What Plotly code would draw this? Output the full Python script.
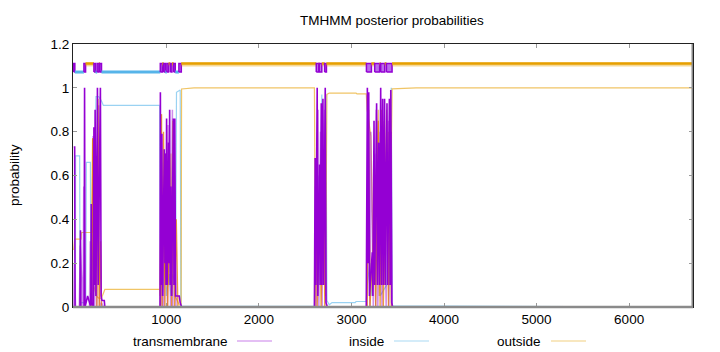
import plotly.graph_objects as go

# ---------------- data ----------------
SEQ_LEN = 6690

# topology strip: (start, end, kind)
topology = [
    (0, 12, "TM"), (12, 110, "in"), (110, 128, "TM"), (128, 218, "out"),
    (218, 236, "TM"), (236, 253, "in"), (253, 272, "TM"), (272, 280, "out"),
    (280, 300, "TM"), (300, 935, "in"),
    (935, 957, "TM"), (957, 971, "out"), (971, 989, "TM"), (989, 1006, "in"),
    (1006, 1025, "TM"), (1025, 1043, "out"), (1043, 1061, "TM"), (1061, 1079, "out"),
    (1079, 1097, "TM"), (1097, 1136, "in"), (1136, 1162, "TM"), (1162, 2620, "out"),
    (2620, 2648, "TM"), (2648, 2652, "out"), (2652, 2680, "TM"), (2680, 2710, "out"),
    (2710, 2730, "TM"), (2730, 3162, "out"),
    (3162, 3216, "TM"), (3216, 3251, "out"), (3251, 3305, "TM"), (3305, 3316, "out"),
    (3316, 3360, "TM"), (3360, 3378, "out"), (3378, 3439, "TM"), (3439, SEQ_LEN, "out"),
]

tm_x = [0, 10, 14, 68, 73, 78, 112, 117, 122, 150, 184, 189, 194, 212, 218, 224, 231, 240,
        256, 264, 288, 296, 305, 330, 336, 928,
        932, 936, 942, 952, 960, 978, 985, 990, 997, 1003, 1010, 1024, 1030, 1036, 1042,
        1050, 1058, 1076, 1083, 1092, 1100, 1140, 1150, 1165,
        2600, 2608, 2615, 2630, 2637, 2655, 2662, 2674, 2680, 2692, 2700, 2717, 2725, 2740,
        3160, 3172, 3180, 3187, 3195, 3225, 3232, 3244, 3252, 3272, 3280, 3294, 3302, 3316,
        3324, 3337, 3345, 3358, 3366, 3384, 3392, 3410, 3418, 3425, 3435, 3445, SEQ_LEN]
tm_y = [0.73, 0.73, 0, 0, 0.35, 0, 0, 1.0, 0, 0.05, 0, 0.47, 0.02, 0, 0.82, 0.1, 0.9, 0.05,
        1.0, 0.1, 1.0, 0.05, 0.03, 0.03, 0, 0,
        0, 0.98, 0.1, 0.79, 0.05, 0.72, 0.2, 0.7, 0.1, 0.86, 0.1, 0.75, 0.2, 0.9, 0.1,
        0.55, 0.05, 0.86, 0.1, 0.86, 0.05, 0.05, 0.02, 0,
        0, 0.68, 0.1, 1.0, 0.05, 0.65, 0.1, 0.93, 0.1, 0.95, 0.1, 1.0, 0.02, 0,
        0, 1.0, 0.2, 0.98, 0.05, 0.25, 0.05, 0.85, 0.1, 0.93, 0.1, 0.75, 0.1, 1.0,
        0.1, 0.95, 0.1, 0.95, 0.1, 0.93, 0.1, 0.95, 0.1, 0.99, 0.02, 0, 0]

# second (lighter) transmembrane profile
tm2_x = [0, 6, 20, 60, 70, 100, 108, 115, 140, 170, 178, 200, 209, 226, 236, 248, 270, 280, 300, 320,
         940, 946, 958, 968, 975, 995, 1012, 1018, 1046, 1066, 1070, 1088, 1105, 1120,
         2603, 2612, 2622, 2640, 2648, 2666, 2684, 2688, 2710, 2730,
         3166, 3178, 3200, 3210, 3236, 3250, 3262, 3268, 3285, 3310, 3330, 3350, 3375, 3398, 3404, 3430, 3440]
tm2_y = [0, 0.2, 0, 0, 0.28, 0, 0.55, 0, 0, 0, 0.3, 0, 0.78, 0, 0.5, 0, 0.92, 0, 0.02, 0,
         0, 0.6, 0, 0.5, 0, 0.7, 0, 0.83, 0, 0.9, 0, 0.6, 0, 0,
         0, 0.55, 0, 0.9, 0, 0.8, 0, 0.6, 0.9, 0,
         0, 0.6, 0, 0.8, 0, 0.7, 0, 0.9, 0, 0.8, 0, 0.7, 0, 0.85, 0, 0.8, 0]

inside_x = [0, 18, 20, 64, 68, 130, 136, 180, 184, 215, 240, 270, 300, 320, 928, 934, 945, 960,
            990, 1000, 1030, 1050, 1070, 1100, 1110, 1150, 1158, 1170, 2600, 2612, 2620, 2640,
            2650, 2680, 2690, 2725, 2735, 2760, 2790, 3040, 3050, 3160, 3170, 3200, 3220, 3300,
            3310, 3380, 3430, 3440, SEQ_LEN]
inside_y = [0, 0, 0.69, 0.69, 0.02, 0.02, 0.66, 0.66, 0.1, 0.3, 0.96, 0.96, 0.94, 0.92, 0.92, 0.1,
            0.2, 0.05, 0.25, 0.05, 0.15, 0.05, 0.15, 0.1, 0.98, 0.99, 0.01, 0.003, 0.003, 0.4, 0.1,
            0.6, 0.1, 0.97, 0.1, 0.97, 0.03, 0.01, 0.02, 0.02, 0.025, 0.025, 0.1, 0.2, 0.05, 0.3,
            0.05, 0.1, 1.0, 0.005, 0.0]

outside_x = [0, 10, 80, 84, 200, 205, 215, 245, 270, 300, 336, 928, 932, 950, 960, 980, 990, 1010,
             1020, 1050, 1060, 1085, 1095, 1140, 1160, 1165, 1300, 2600, 2605, 2615, 2640, 2660,
             2700, 2720, 2735, 2760, 3050, 3060, 3160, 3170, 3210, 3240, 3290, 3300, 3350, 3360,
             3400, 3410, 3440, 3700, SEQ_LEN]
outside_y = [0.26, 0.31, 0.31, 0.34, 0.34, 0.77, 0.1, 0.05, 0.04, 0.04, 0.08, 0.08, 0.05, 0.88,
             0.1, 0.6, 0.1, 0.5, 0.1, 0.7, 0.05, 0.8, 0.05, 0.01, 0.01, 0.995, 1.0, 1.0, 0.63,
             0.2, 0.5, 0.3, 0.6, 0.05, 0.97, 0.976, 0.976, 0.972, 0.972, 0.9, 0.78, 0.1, 0.9, 0.05,
             0.85, 0.1, 0.8, 0.1, 0.995, 1.0, 1.0]

# darker outside spikes inside TM clusters
out2_x = [190, 204, 212, 250, 262, 275, 290, 300,
          936, 944, 955, 970, 985, 1000, 1015, 1040, 1058, 1072, 1090, 1108, 1125, 1140,
          2606, 2618, 2630, 2660, 2672, 2700, 2712, 2725,
          3170, 3186, 3200, 3250, 3262, 3290, 3310, 3326, 3345, 3380, 3400, 3420, 3430]
out2_y = [0, 0.77, 0, 0, 0.95, 0, 0.3, 0,
          0, 0.88, 0, 0.8, 0, 0.6, 0, 0.55, 0, 0.85, 0, 0.4, 0, 0,
          0, 0.6, 0, 0.45, 0, 0.55, 0, 0,
          0, 0.9, 0, 0.4, 0, 0.85, 0, 0.9, 0, 0.9, 0, 0.85, 0]

Y_IN, Y_OUT = 1.072, 1.111
PURPLE = "#9400D3"
BLUE = "#56B4E9"
ORANGE = "#E69F00"

fig = go.Figure()

# posterior curves
fig.add_trace(go.Scatter(x=inside_x, y=inside_y, mode="lines",
                         line=dict(color="rgba(86,180,233,0.6)", width=1.2), showlegend=False))
fig.add_trace(go.Scatter(x=outside_x, y=outside_y, mode="lines",
                         line=dict(color="rgba(230,159,0,0.6)", width=1.2), showlegend=False))
fig.add_trace(go.Scatter(x=tm2_x, y=tm2_y, mode="lines",
                         line=dict(color="rgba(148,0,211,0.45)", width=1.5), showlegend=False))
fig.add_trace(go.Scatter(x=out2_x, y=out2_y, mode="lines",
                         line=dict(color="rgba(230,120,0,0.75)", width=1.3), showlegend=False))
fig.add_trace(go.Scatter(x=tm_x, y=tm_y, mode="lines",
                         line=dict(color=PURPLE, width=1.6), showlegend=False))

# topology strip
for s, e, kind in topology:
    if kind == "TM":
        fig.add_trace(go.Scatter(x=[s, e, e, s, s], y=[Y_IN, Y_IN, Y_OUT, Y_OUT, Y_IN],
                                 mode="lines", fill="toself",
                                 fillcolor="rgba(160,60,225,0.75)",
                                 line=dict(color=PURPLE, width=1.5), showlegend=False))
    elif kind == "in":
        fig.add_trace(go.Scatter(x=[s, e], y=[Y_IN, Y_IN], mode="lines",
                                 line=dict(color=BLUE, width=3), showlegend=False))
    else:
        fig.add_trace(go.Scatter(x=[s, e], y=[Y_OUT - 0.004, Y_OUT - 0.004], mode="lines",
                                 line=dict(color="rgba(230,159,0,0.4)", width=4), showlegend=False))
        fig.add_trace(go.Scatter(x=[s, e], y=[Y_OUT, Y_OUT], mode="lines",
                                 line=dict(color=ORANGE, width=2.5), showlegend=False))

# right-edge gray line (end of sequence)
fig.add_trace(go.Scatter(x=[SEQ_LEN, SEQ_LEN], y=[0, 1.2], mode="lines",
                         line=dict(color="#8a8a8a", width=3), showlegend=False))

FONT = "Liberation Sans, Arial, sans-serif"
L, R, T, B = 73, 693, 44, 307
W, H = 720, 352


def px(xp):
    return (xp - L) / (R - L)


def py(yp):
    return (B - yp) / (B - T)


fig.update_layout(
    width=W, height=H, autosize=False,
    margin=dict(l=L, r=W - R, t=T, b=H - B),
    paper_bgcolor="white", plot_bgcolor="white",
    font=dict(family=FONT, size=13, color="black"),
    showlegend=False,
    xaxis=dict(range=[-8, SEQ_LEN], tickvals=[1000, 2000, 3000, 4000, 5000, 6000],
               ticks="inside", ticklen=4, tickcolor="#999", showgrid=False, zeroline=False,
               showline=True, linecolor="#222", linewidth=1, mirror="ticks",
               tickfont=dict(family=FONT, size=13.5)),
    yaxis=dict(range=[0, 1.2], tickvals=[0, 0.2, 0.4, 0.6, 0.8, 1.0, 1.2],
               ticktext=["0", "0.2", "0.4", "0.6", "0.8", "1", "1.2"],
               ticks="inside", ticklen=4, tickcolor="#999", showgrid=False, zeroline=False,
               showline=True, linecolor="#222", linewidth=1, mirror="ticks",
               tickfont=dict(family=FONT, size=13.5)),
)

shapes = [
    dict(type="line", xref="paper", yref="paper", x0=0, x1=1, y0=0, y1=0,
         line=dict(color="#8a8a8a", width=2.5), layer="above"),
]
legend_items = [("transmembrane", 229.5, 237, 272, "rgba(148,0,211,0.5)"),
                ("inside", 386, 394, 429, "rgba(86,180,233,0.5)"),
                ("outside", 542.5, 551, 586, "rgba(230,159,0,0.5)")]
annotations = [
    dict(text="TMHMM posterior probabilities", xref="paper", yref="paper",
         x=px(392), y=py(20), xanchor="center", yanchor="middle", showarrow=False,
         font=dict(family=FONT, size=13.5)),
    dict(text="probability", xref="paper", yref="paper", x=px(14), y=py(175),
         xanchor="center", yanchor="middle", textangle=-90, showarrow=False,
         font=dict(family=FONT, size=13.5)),
]
LEG_Y = 341
for name, tx, lx0, lx1, col in legend_items:
    annotations.append(dict(text=name, xref="paper", yref="paper", x=px(tx), y=py(LEG_Y),
                            xanchor="right", yanchor="middle", showarrow=False,
                            font=dict(family=FONT, size=13.5)))
    shapes.append(dict(type="line", xref="paper", yref="paper", x0=px(lx0), x1=px(lx1),
                       y0=py(LEG_Y), y1=py(LEG_Y), line=dict(color=col, width=1.2)))

fig.update_layout(shapes=shapes, annotations=annotations)
fig.write_html("out.html")
